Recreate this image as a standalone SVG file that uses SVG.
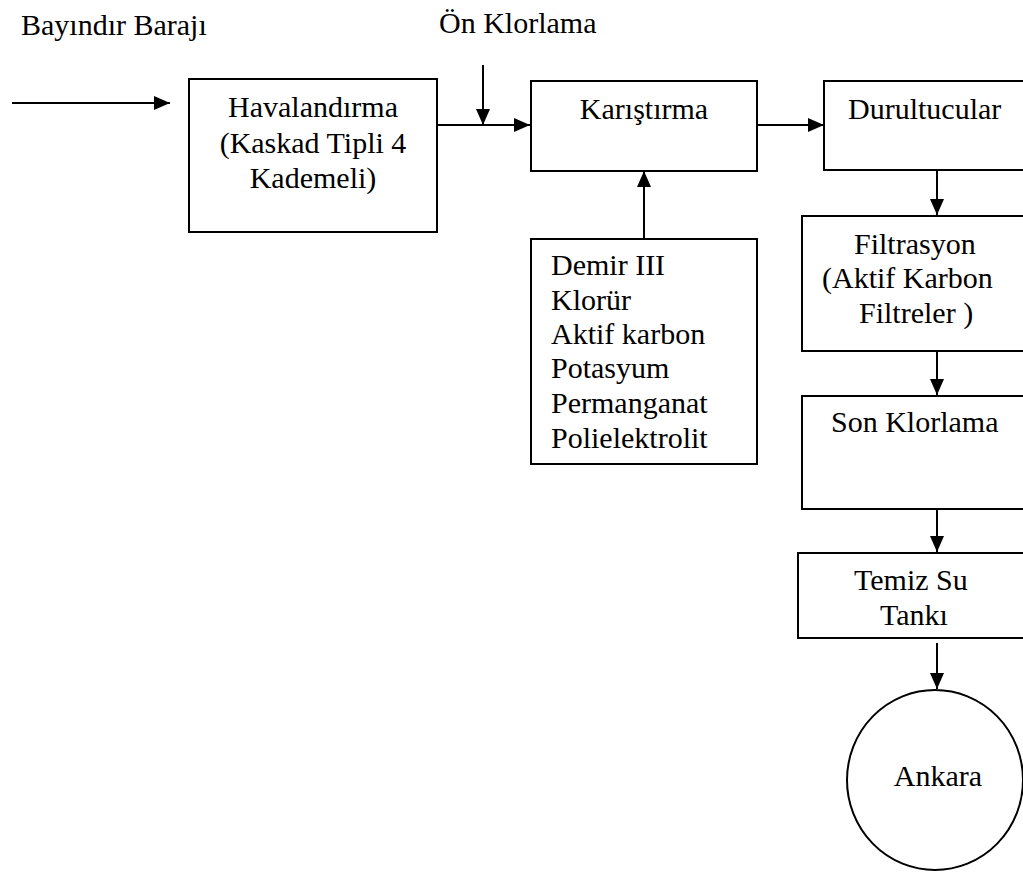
<svg xmlns="http://www.w3.org/2000/svg" width="1023" height="872" viewBox="0 0 1023 872">
<style>
  .box { fill: #ffffff; stroke: #000000; stroke-width: 2; }
  .t { font-family: 'Liberation Serif', Tinos, 'Times New Roman', Times, 'Noto Serif', 'DejaVu Serif', serif; font-size: 30px; fill: #000000; }
  .c { text-anchor: middle; }
  .conn { stroke: #000000; stroke-width: 2; fill: none; marker-end: url(#arrow); }
</style>
<defs>
  <marker id="arrow" markerUnits="userSpaceOnUse" markerWidth="17" markerHeight="15" refX="16" refY="7" orient="auto">
    <path d="M0,0 L16,7 L0,14 Z" fill="#000000"/>
  </marker>
</defs>
<rect x="0" y="0" width="1023" height="872" fill="#ffffff"/>

<g id="label-bayindir">
  <text class="t" font-family="Liberation Serif, serif" x="21" y="35">Bayındır Barajı</text>
</g>
<g id="label-onklorlama">
  <text class="t" x="439" y="33">Ön Klorlama</text>
</g>

<g id="havalandirma">
  <rect class="box" x="189" y="79" width="248" height="153"/>
  <text class="t c" x="313" y="117">Havalandırma</text>
  <text class="t c" x="313" y="152.5">(Kaskad Tipli 4</text>
  <text class="t c" x="313" y="188">Kademeli)</text>
</g>

<g id="karistirma">
  <rect class="box" x="531" y="81" width="226" height="90"/>
  <text class="t c" x="644" y="119">Karıştırma</text>
</g>

<g id="durultucular">
  <rect class="box" x="824" y="81" width="210" height="89"/>
  <text class="t" x="848" y="119">Durultucular</text>
</g>

<g id="kimyasallar">
  <rect class="box" x="531" y="239" width="226" height="225"/>
  <text class="t" x="551" y="275">Demir III</text>
  <text class="t" x="551" y="310">Klorür</text>
  <text class="t" x="551" y="344">Aktif karbon</text>
  <text class="t" x="551" y="378">Potasyum</text>
  <text class="t" x="551" y="413">Permanganat</text>
  <text class="t" x="551" y="448">Polielektrolit</text>
</g>

<g id="filtrasyon">
  <rect class="box" x="802" y="216" width="232" height="135"/>
  <text class="t" x="854" y="254">Filtrasyon</text>
  <text class="t" x="822" y="288">(Aktif Karbon</text>
  <text class="t" x="859" y="323">Filtreler )</text>
</g>

<g id="sonklorlama">
  <rect class="box" x="802" y="396" width="232" height="113"/>
  <text class="t" x="831" y="432">Son Klorlama</text>
</g>

<g id="temizsu">
  <rect class="box" x="798" y="553" width="236" height="85"/>
  <text class="t" x="854" y="590">Temiz Su</text>
  <text class="t" x="880" y="625">Tankı</text>
</g>

<g id="ankara">
  <ellipse class="box" cx="935" cy="780" rx="88" ry="90"/>
  <text class="t c" x="938" y="786">Ankara</text>
</g>

<g id="connectors">
  <line class="conn" x1="12" y1="103" x2="170" y2="103"/>
  <line class="conn" x1="437" y1="125" x2="530" y2="125"/>
  <line class="conn" x1="483" y1="65" x2="483" y2="125"/>
  <line class="conn" x1="757" y1="125" x2="824" y2="125"/>
  <line class="conn" x1="644" y1="239" x2="644" y2="171"/>
  <line class="conn" x1="937" y1="170" x2="937" y2="215"/>
  <line class="conn" x1="937" y1="351" x2="937" y2="395"/>
  <line class="conn" x1="937" y1="509" x2="937" y2="552"/>
  <line class="conn" x1="937" y1="643" x2="937" y2="689"/>
</g>
</svg>
